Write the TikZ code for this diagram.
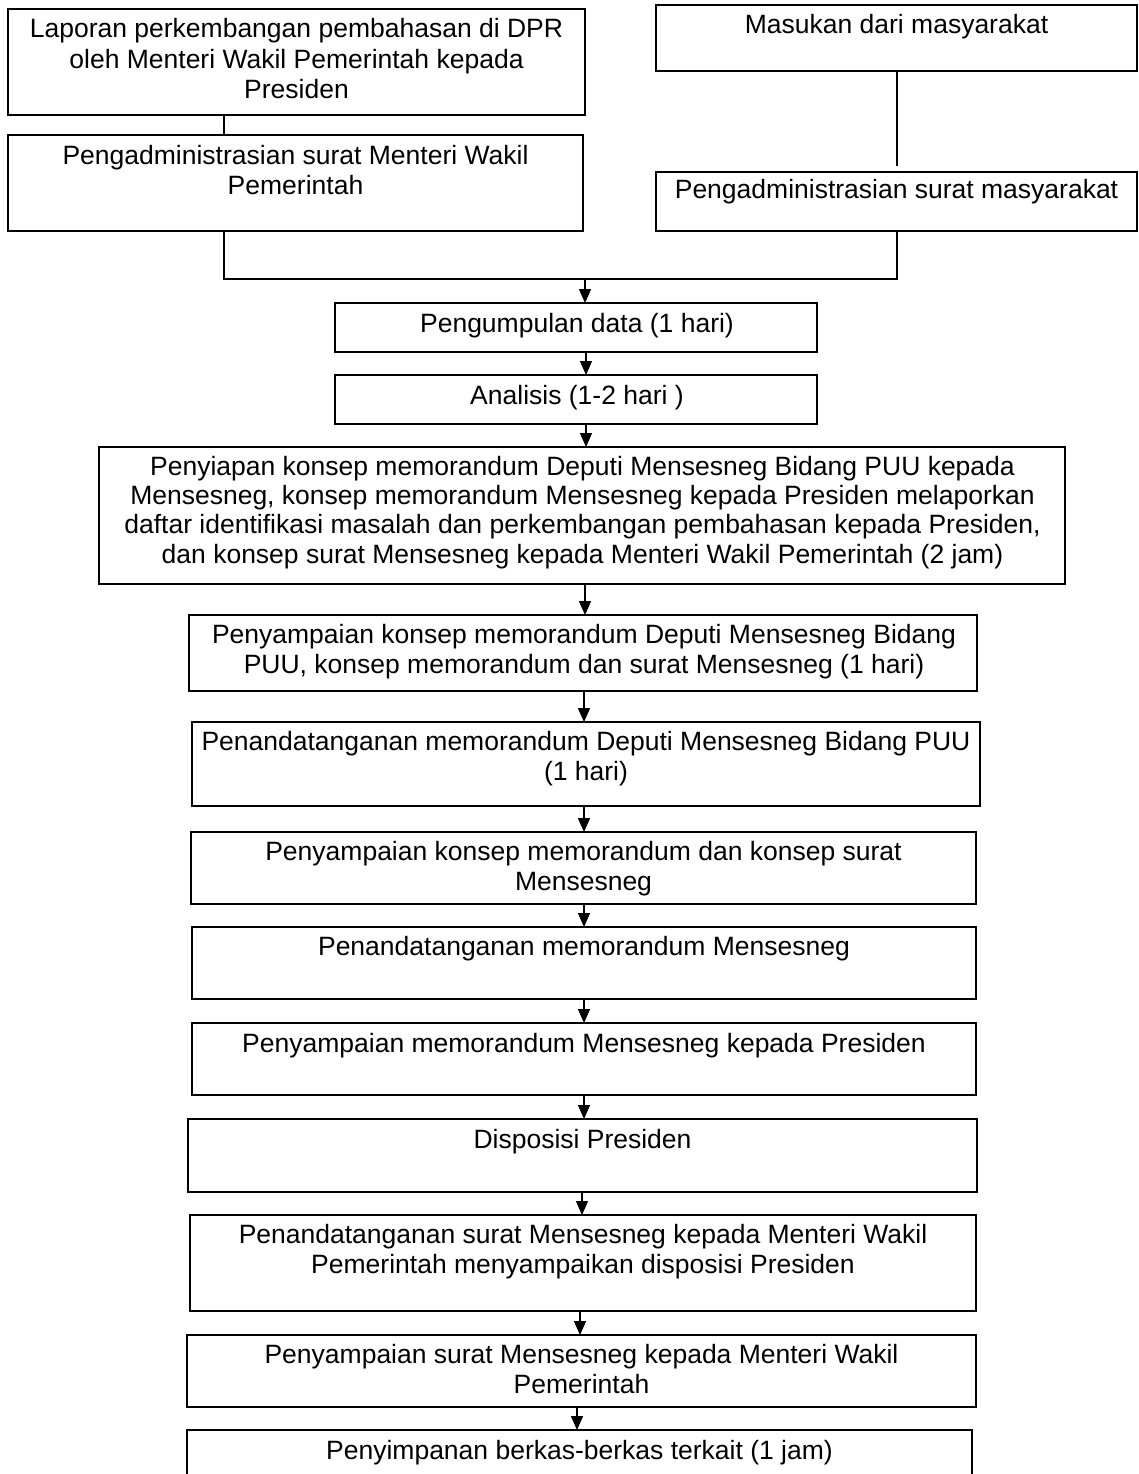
\documentclass[tikz,border=0pt]{standalone}
\usepackage{fontspec}
\setmainfont{Liberation Sans}
\usetikzlibrary{arrows.meta}
\tikzset{
  box/.style={draw, line width=1.8pt, rectangle, inner sep=0pt, outer sep=0pt},
  txt/.style={align=center, inner sep=0pt, anchor=base, font=\fontsize{26.5}{30}\selectfont},
  ln/.style={line width=1.5pt},
  arr/.style={line width=1.5pt, -{Triangle[width=12pt,length=14pt]}}
}
\begin{document}
\begin{tikzpicture}[x=1pt,y=-1pt]
\fill[white] (0,0) rectangle (1138,1474);
\useasboundingbox (0,0) rectangle (1138,1474);
\clip (0,0) rectangle (1138,1474);

% top left column
\node[box, minimum width=577pt, minimum height=106pt] (b1) at (296.5,62) {};
\node[txt, font=\fontsize{26.5}{30.7}\selectfont] at (296.5,99) {Laporan perkembangan pembahasan di DPR\\oleh Menteri Wakil Pemerintah kepada\\Presiden};
\node[box, minimum width=575pt, minimum height=96pt] (b2) at (295.5,183) {};
\node[txt] at (295.5,194) {Pengadministrasian surat Menteri Wakil\\Pemerintah};

% top right column
\node[box, minimum width=481pt, minimum height=66pt] (m1) at (896.5,38) {};
\node[txt] at (896.5,34) {Masukan dari masyarakat};
\node[box, minimum width=481pt, minimum height=59pt] (m2) at (896.5,201.5) {};
\node[txt] at (896.5,199) {Pengadministrasian surat masyarakat};

% main column
\node[box, minimum width=482pt, minimum height=49pt] (c1) at (576,327.5) {};
\node[txt] at (577,332) {Pengumpulan data (1 hari)};
\node[box, minimum width=482pt, minimum height=49pt] (c2) at (576,399.5) {};
\node[txt] at (577,404) {Analisis (1-2 hari )};
\node[box, minimum width=966pt, minimum height=137pt] (c3) at (582,515.5) {};
\node[txt, font=\fontsize{26.5}{29.1}\selectfont] at (582.5,563) {Penyiapan konsep memorandum Deputi Mensesneg Bidang PUU kepada\\Mensesneg, konsep memorandum Mensesneg kepada Presiden melaporkan\\daftar identifikasi masalah dan perkembangan pembahasan kepada Presiden,\\dan konsep surat Mensesneg kepada Menteri Wakil Pemerintah (2 jam)};
\node[box, minimum width=788pt, minimum height=76pt] (c4) at (583,653) {};
\node[txt] at (584,673) {Penyampaian konsep memorandum Deputi Mensesneg Bidang\\PUU, konsep memorandum dan surat Mensesneg (1 hari)};
\node[box, minimum width=788pt, minimum height=84pt] (c5) at (586,764) {};
\node[txt] at (586,780) {Penandatanganan memorandum Deputi Mensesneg Bidang PUU\\(1 hari)};
\node[box, minimum width=785pt, minimum height=72pt] (c6) at (583.5,868) {};
\node[txt] at (583.5,890) {Penyampaian konsep memorandum dan konsep surat\\Mensesneg};
\node[box, minimum width=784pt, minimum height=72pt] (c7) at (584,963) {};
\node[txt] at (584,955) {Penandatanganan memorandum Mensesneg};
\node[box, minimum width=784pt, minimum height=72pt] (c8) at (584,1059) {};
\node[txt] at (584,1052) {Penyampaian memorandum Mensesneg kepada Presiden};
\node[box, minimum width=789pt, minimum height=73pt] (c9) at (582.5,1155.5) {};
\node[txt] at (582.5,1148) {Disposisi Presiden};
\node[box, minimum width=786pt, minimum height=96pt] (c10) at (583,1263) {};
\node[txt] at (583,1273) {Penandatanganan surat Mensesneg kepada Menteri Wakil\\Pemerintah menyampaikan disposisi Presiden};
\node[box, minimum width=789pt, minimum height=72pt] (c11) at (581.5,1371) {};
\node[txt] at (581.5,1393) {Penyampaian surat Mensesneg kepada Menteri Wakil\\Pemerintah};
\node[box, minimum width=785pt, minimum height=76pt] (c12) at (579.5,1468) {};
\node[txt] at (579.5,1459) {Penyimpanan berkas-berkas terkait (1 jam)};

% junction coordinates
\coordinate (jL) at (224,279);
\coordinate (jM) at (585,279);
\coordinate (jR) at (897,279);
\coordinate (m2top) at ([yshift=6pt]m2.north);

% top connectors
\draw[ln] (b1.south -| jL) -- (b2.north -| jL);
\draw[ln] (m1.south -| jR) -- (m2top -| jR);
\draw[ln] (b2.south -| jL) -- (jL) -- (jR) -- (m2.south -| jR);
\draw[arr] (jM) -- (c1.north -| jM);

% main arrows
\draw[arr] ([xshift=10pt]c1.south) -- ([xshift=10pt]c2.north);
\draw[arr] ([xshift=10pt]c2.south) -- ([xshift=10pt]c2.south |- c3.north);
\draw[arr] ([xshift=3pt]c3.south) -- ([xshift=3pt]c3.south |- c4.north);
\draw[arr] ([xshift=1pt]c4.south) -- ([xshift=1pt]c4.south |- c5.north);
\draw[arr] ([xshift=-2pt]c5.south) -- ([xshift=-2pt]c5.south |- c6.north);
\draw[arr] ([xshift=0.5pt]c6.south) -- ([xshift=0.5pt]c6.south |- c7.north);
\draw[arr] (c7.south) -- (c8.north);
\draw[arr] (c8.south) -- (c8.south |- c9.north);
\draw[arr] ([xshift=-0.5pt]c9.south) -- ([xshift=-0.5pt]c9.south |- c10.north);
\draw[arr] ([xshift=-3pt]c10.south) -- ([xshift=-3pt]c10.south |- c11.north);
\draw[arr] ([xshift=-4.5pt]c11.south) -- ([xshift=-4.5pt]c11.south |- c12.north);
\end{tikzpicture}
\end{document}
